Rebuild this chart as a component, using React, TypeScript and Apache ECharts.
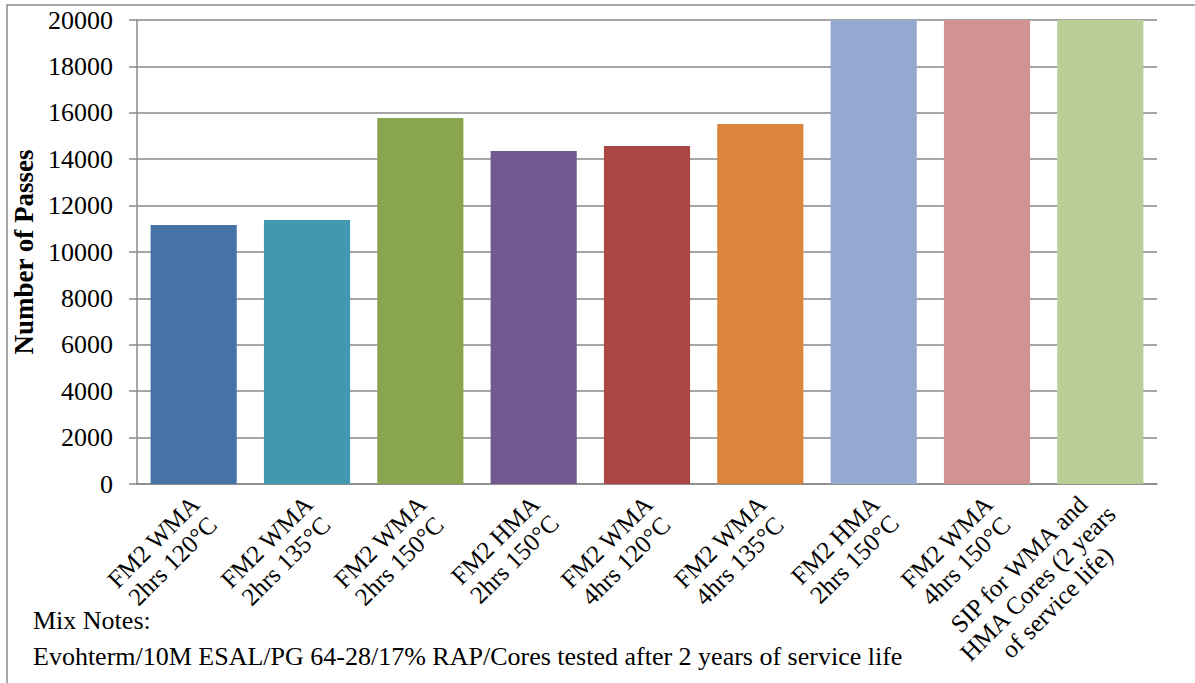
import React, { useEffect, useRef } from "react";
import * as echarts from "echarts";

const categories: string[] = [
  "FM2 WMA\n2hrs 120°C",
  "FM2 WMA\n2hrs 135°C",
  "FM2 WMA\n2hrs 150°C",
  "FM2 HMA\n2hrs 150°C",
  "FM2 WMA\n4hrs 120°C",
  "FM2 WMA\n4hrs 135°C",
  "FM2 HMA\n2hrs 150°C",
  "FM2 WMA\n4hrs 150°C",
  "SIP for WMA and\nHMA Cores (2 years\nof service life)",
];

const passes: number[] = [11160, 11380, 15780, 14350, 14570, 15520, 20000, 20000, 20000];

const barColors: string[] = [
  "#4572A7",
  "#4198AF",
  "#89A54E",
  "#71588F",
  "#AA4643",
  "#DB843D",
  "#93A9CF",
  "#D19392",
  "#B9CD96",
];

const yTicks = { min: 0, max: 20000, interval: 2000 };
const yTitle = "Number of Passes";
const notes: string[] = [
  "Mix Notes:",
  "Evohterm/10M ESAL/PG 64-28/17% RAP/Cores tested after 2 years of service life",
];

const FONT = "'Liberation Serif', 'Times New Roman', serif";

export default function App() {
  const ref = useRef<HTMLDivElement>(null);
  useEffect(() => {
    if (!ref.current) return;
    const chart = echarts.init(ref.current, null, { renderer: "svg" });
    chart.setOption({
      animation: false,
      backgroundColor: "#ffffff",
      grid: {
        left: 137,
        right: 38,
        top: 20,
        bottom: 199,
        containLabel: false,
        outerBoundsMode: "none",
      },
      xAxis: {
        type: "category",
        data: categories,
        axisLine: { show: true, lineStyle: { color: "#898989", width: 1.5 } },
        axisTick: { show: false },
        axisLabel: {
          rotate: 45,
          interval: 0,
          margin: 14,
          padding: [32, 0, 0, 0],
          formatter: (v: string) =>
            v
              .split("\n")
              .map((l) => `{c|${l}}`)
              .join("\n"),
          rich: {
            c: {
              align: "center",
              fontFamily: FONT,
              fontSize: 25,
              lineHeight: 27,
              color: "#000",
            },
          },
        },
      },
      yAxis: {
        type: "value",
        min: yTicks.min,
        max: yTicks.max,
        interval: yTicks.interval,
        name: yTitle,
        nameLocation: "middle",
        nameGap: 100,
        nameRotate: 90,
        nameTextStyle: {
          fontFamily: FONT,
          fontSize: 27,
          fontWeight: "bold",
          color: "#000",
        },
        axisLine: { show: true, lineStyle: { color: "#898989", width: 1.5 } },
        axisTick: { show: true, length: 8, lineStyle: { color: "#898989", width: 1.5 } },
        axisLabel: {
          margin: 24,
          fontFamily: FONT,
          fontSize: 26,
          color: "#000",
          formatter: (v: number) => String(v),
        },
        splitLine: { show: true, lineStyle: { color: "#898989", width: 1.5 } },
      },
      series: [
        {
          type: "bar",
          data: passes.map((v, i) => ({ value: v, itemStyle: { color: barColors[i] } })),
          barWidth: "76%",
        },
      ],
      graphic: [
        {
          type: "rect",
          silent: true,
          shape: { x: 7, y: 5, width: 1200, height: 690 },
          style: { fill: "none", stroke: "#898989", lineWidth: 1.5 },
          z: -1,
        },
        {
          type: "text",
          x: 33,
          y: 620,
          style: {
            text: notes[0],
            fontFamily: FONT,
            fontSize: 26,
            fill: "#000",
            verticalAlign: "middle",
            align: "left",
          },
        },
        {
          type: "text",
          x: 33,
          y: 656,
          style: {
            text: notes[1],
            fontFamily: FONT,
            fontSize: 26,
            fill: "#000",
            verticalAlign: "middle",
            align: "left",
          },
        },
      ],
    });
    return () => chart.dispose();
  }, []);
  return (
    <div
      ref={ref}
      style={{ position: "absolute", left: 0, top: 0, width: 1195, height: 683 }}
    />
  );
}
